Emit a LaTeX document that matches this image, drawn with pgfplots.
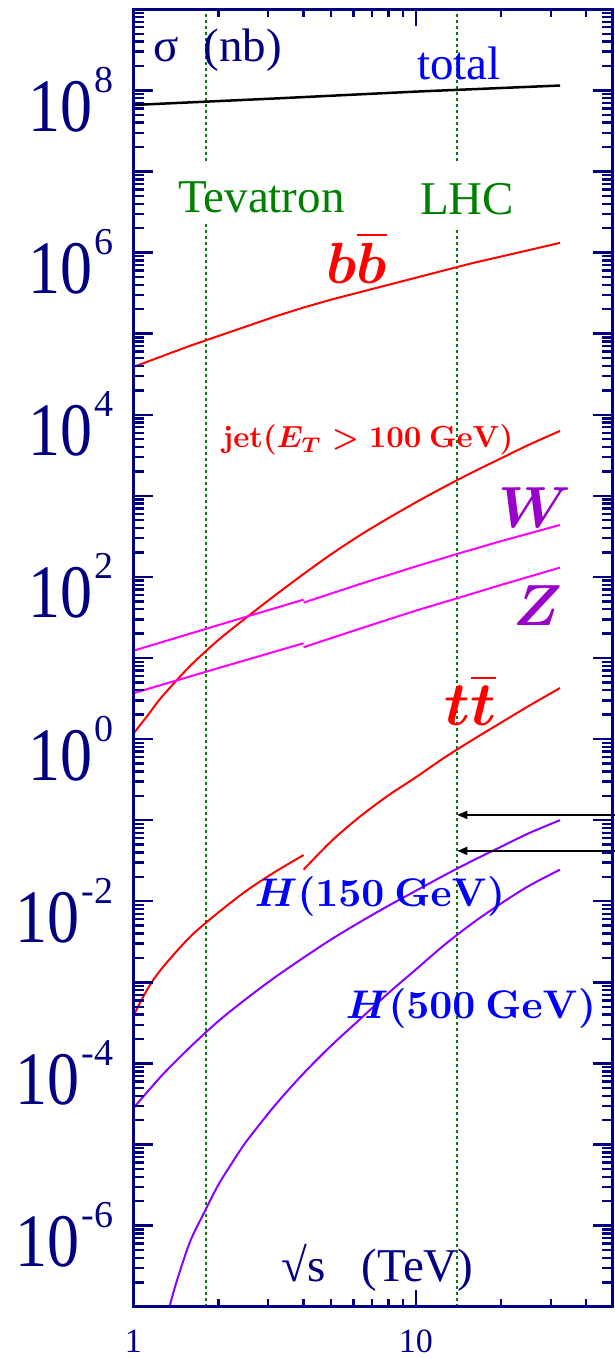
\documentclass[border=0pt]{standalone}
\usepackage{pgfplots}
\pgfplotsset{compat=1.18}
\usepackage{fontspec}
\setmainfont{Liberation Serif}
\usetikzlibrary{arrows.meta}
\definecolor{navy}{RGB}{0,0,128}
\definecolor{tgreen}{RGB}{0,128,0}
\definecolor{hviolet}{RGB}{140,0,255}
\definecolor{wz}{RGB}{153,0,204}
\definecolor{mag}{RGB}{255,0,255}
\newcommand\tl[1]{\scalebox{1}[1.18]{\fontsize{64}{64}\selectfont 10}\kern2pt\raisebox{39pt}{\fontsize{38}{38}\selectfont #1}}
\newcommand\bx[2]{\scalebox{#1}{\fontsize{10}{12}\selectfont #2}}
\begin{document}
\begin{tikzpicture}
\begin{axis}[
 at={(0pt,0pt)}, anchor=south west,
 scale only axis, width=479.2pt, height=1297.4pt,
 xmode=log, ymode=log,
 xmin=1, xmax=49.7, ymin=1e-7, ymax=1e9,
 axis line style={navy, line width=3pt},
 xtick={1,10}, xticklabels={1,10},
 minor xtick={2,3,4,5,6,7,8,9,20,30,40},
 ytick={1e-7,1e-6,1e-5,1e-4,1e-3,1e-2,1e-1,1,1e1,1e2,1e3,1e4,1e5,1e6,1e7,1e8,1e9},
 yticklabels={,\tl{-6},,\tl{-4},,\tl{-2},,\tl{0},,\tl{2},,\tl{4},,\tl{6},,\tl{8},},
 minor ytick={
 2e-7,3e-7,4e-7,5e-7,6e-7,7e-7,8e-7,9e-7,
 2e-6,3e-6,4e-6,5e-6,6e-6,7e-6,8e-6,9e-6,
 2e-5,3e-5,4e-5,5e-5,6e-5,7e-5,8e-5,9e-5,
 2e-4,3e-4,4e-4,5e-4,6e-4,7e-4,8e-4,9e-4,
 2e-3,3e-3,4e-3,5e-3,6e-3,7e-3,8e-3,9e-3,
 2e-2,3e-2,4e-2,5e-2,6e-2,7e-2,8e-2,9e-2,
 2e-1,3e-1,4e-1,5e-1,6e-1,7e-1,8e-1,9e-1,
 2,3,4,5,6,7,8,9,
 2e1,3e1,4e1,5e1,6e1,7e1,8e1,9e1,
 2e2,3e2,4e2,5e2,6e2,7e2,8e2,9e2,
 2e3,3e3,4e3,5e3,6e3,7e3,8e3,9e3,
 2e4,3e4,4e4,5e4,6e4,7e4,8e4,9e4,
 2e5,3e5,4e5,5e5,6e5,7e5,8e5,9e5,
 2e6,3e6,4e6,5e6,6e6,7e6,8e6,9e6,
 2e7,3e7,4e7,5e7,6e7,7e7,8e7,9e7,
 2e8,3e8,4e8,5e8,6e8,7e8,8e8,9e8},
 tick align=inside,
 xtick style={navy, line width=2.4pt, /pgfplots/major tick length=17pt, /pgfplots/minor tick length=8pt},
 ytick style={navy, line width=2.4pt, /pgfplots/major tick length=20pt, /pgfplots/minor tick length=11pt},
 minor tick style={line width=2pt},
 xticklabel style={font=\fontsize{34}{34}\selectfont, text=navy, inner sep=0pt, anchor=north, yshift=-23pt},
 yticklabel style={text=navy, inner sep=0pt, anchor=base east, xshift=-20pt, yshift=-41pt},
 clip mode=individual,
 axis on top,
]
% collider lines
\addplot[tgreen, line width=2pt, dash pattern=on 2.5pt off 3.5pt] coordinates {(1.8,1e-7) (1.8,1e9)};
\addplot[tgreen, line width=2pt, dash pattern=on 2.5pt off 3.5pt] coordinates {(14,1e-7) (14,1e9)};
% total
\addplot[black, line width=2.5pt] coordinates {(1,6.607e7) (3.162,7.943e7) (10,9.66e7) (32.36,1.148e8)};
% b bbar
\addplot[red, line width=2pt] coordinates {(1,3.890e4) (1.259,5.248e4) (1.585,7.079e4) (1.995,9.333e4) (2.512,1.230e5) (3.162,1.622e5) (3.981,2.089e5) (5.012,2.630e5) (6.310,3.236e5) (7.943,3.981e5) (10,4.898e5) (12.59,6.026e5) (15.85,7.413e5) (19.95,8.913e5) (25.12,1.072e6) (32.36,1.318e6)};
% jet
\addplot[red, line width=2pt, smooth] coordinates {(1,1.175) (1.122,1.950) (1.259,3.311) (1.585,7.943) (1.995,16.60) (2.512,31.62) (3.162,58.88) (3.981,107.2) (5.012,190.5) (6.310,323.6) (7.943,524.8) (10,831.8) (12.59,1288) (15.85,1950) (19.95,2884) (25.12,4266) (32.36,6310)};
% W
\addplot[mag, line width=2pt] coordinates {(1,12.30) (1.995,25.41) (4,52.48)};
\addplot[mag, line width=2pt] coordinates {(4,48.19) (6.310,81.28) (10,134.9) (14,192.3) (19.95,275.4) (32.36,437.5)};
% Z
\addplot[mag, line width=2pt] coordinates {(1,3.681) (1.995,7.499) (4,15.21)};
\addplot[mag, line width=2pt] coordinates {(4,13.58) (6.310,22.91) (10,38.46) (14,54.58) (19.95,79.43) (32.36,130.3)};
% t tbar
\addplot[red, line width=2pt, smooth] coordinates {(1,3.890e-4) (1.122,8.318e-4) (1.259,1.479e-3) (1.585,3.631e-3) (1.995,7.244e-3) (2.512,1.349e-2) (3.162,2.291e-2) (4,3.715e-2)};
\addplot[red, line width=2pt, smooth] coordinates {(4,2.455e-2) (5.012,5.495e-2) (6.310,0.1096) (7.943,0.1995) (10,0.3388) (12.59,0.5888) (15.85,0.9772) (19.95,1.585) (25.12,2.570) (32.36,4.266)};
% H 150
\addplot[hviolet, line width=2pt, smooth] coordinates {(1,2.818e-5) (1.259,7.079e-5) (1.585,1.585e-4) (1.995,3.311e-4) (2.512,6.310e-4) (3.162,1.148e-3) (3.981,1.995e-3) (5.012,3.388e-3) (6.310,5.495e-3) (7.943,8.710e-3) (10,1.349e-2) (12.59,2.089e-2) (15.85,3.162e-2) (19.95,4.677e-2) (25.12,6.918e-2) (32.36,0.1)};
% H 500
\addplot[hviolet, line width=2pt, smooth] coordinates {(1.318,7.943e-8) (1.4125,1.905e-7) (1.585,6.310e-7) (1.791,1.514e-6) (1.995,3.162e-6) (2.239,6.026e-6) (2.512,1.096e-5) (3.162,3.020e-5) (3.981,7.413e-5) (5.012,1.660e-4) (6.310,3.467e-4) (7.943,7.244e-4) (10,1.445e-3) (12.59,2.884e-3) (15.85,5.370e-3) (19.95,9.333e-3) (25.12,1.549e-2) (32.36,2.455e-2)};
% arrows
\draw[black, line width=1.5pt, -{Triangle[length=10pt,width=8pt]}] (axis cs:60,0.1161) -- (axis cs:14,0.1161);
\draw[black, line width=1.5pt, -{Triangle[length=10pt,width=8pt]}] (axis cs:60,0.04178) -- (axis cs:14,0.04178);
\end{axis}
% labels
\node[anchor=base west, text=navy, font=\fontsize{47}{47}\selectfont, inner sep=0pt] at (19.5pt,1244.7pt) {σ\hspace{25pt}(nb)};
\node[anchor=base west, text=blue, font=\fontsize{47}{47}\selectfont, inner sep=0pt] at (283.5pt,1226.7pt) {total};
\node[anchor=base west, fill=white, text=tgreen, font=\fontsize{47}{47}\selectfont, inner xsep=3pt, inner ysep=0pt, text height=50pt, text depth=9pt] at (41.5pt,1093.7pt) {Tevatron};
\node[anchor=base west, fill=white, text=tgreen, font=\fontsize{47}{47}\selectfont, inner xsep=3pt, inner ysep=0pt, text height=52pt, text depth=13pt] at (283.5pt,1091.7pt) {LHC};
\node[anchor=base west, text=navy, font=\fontsize{47}{47}\selectfont, inner sep=0pt] at (148.2pt,24.7pt) {√s\hspace{36pt}(TeV)};
\node[text=red, inner sep=0pt] at (223.2pt,1049.2pt) {\bx{5.8}{\boldmath$b\overline{b}$}};
\node[text=red, inner sep=0pt] at (234.5pt,866.7pt) {\bx{3.05}{\boldmath$\mathbf{jet}(E_T>\mathbf{100\ GeV})$}};
\node[text=wz, inner sep=0pt] at (401pt,799.2pt) {\bx{5.8}{\boldmath$W$}};
\node[text=wz, inner sep=0pt] at (404pt,700.7pt) {\bx{5.8}{\boldmath$Z$}};
\node[text=red, inner sep=0pt] at (337pt,606.7pt) {\bx{6.2}{\boldmath$t\overline{t}$}};
\node[text=blue, inner sep=0pt] at (246.5pt,410.2pt) {\bx{4.0}{\boldmath$H(\mathbf{150\ GeV})$}};
\node[text=blue, inner sep=0pt] at (337.5pt,298.2pt) {\bx{4.0}{\boldmath$H(\mathbf{500\ GeV})$}};
\pgfresetboundingbox
\path[use as bounding box] (-133.5pt,-51.3pt) rectangle (480.5pt,1306.7pt);
\end{tikzpicture}
\end{document}
